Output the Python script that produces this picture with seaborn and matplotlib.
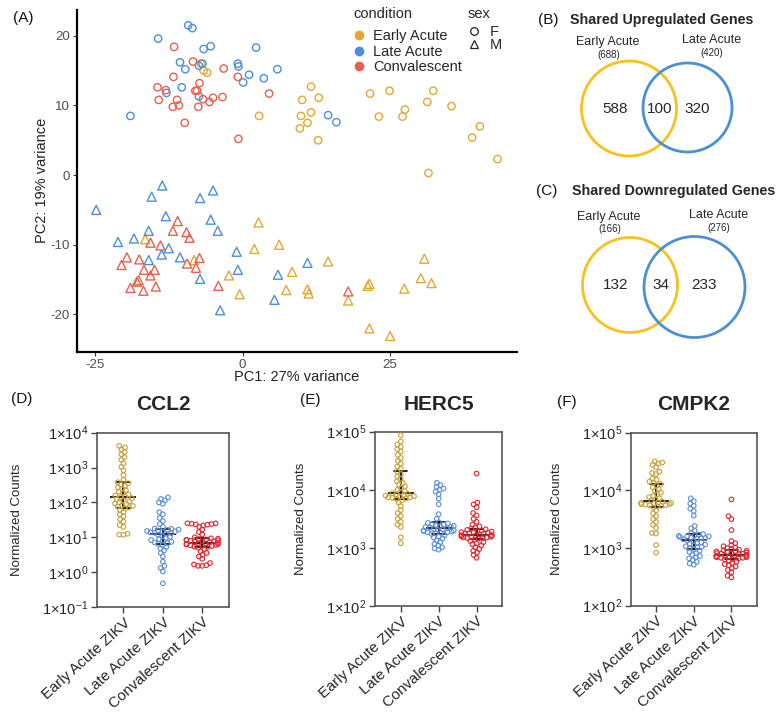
import numpy as np
import pandas as pd
import matplotlib
matplotlib.use("Agg")
import matplotlib.pyplot as plt
import seaborn as sns
from matplotlib.patches import Circle
from matplotlib.lines import Line2D
from matplotlib.ticker import FixedLocator, NullLocator, FuncFormatter

# ---------------- data: PCA (panel A) ----------------
conditions = ["Early Acute", "Late Acute", "Convalescent"]
sexes = ["F", "M"]

early_f_pc1 = [-7.1, -6.6, -6.0, 2.8, 11.6, 10.1, 12.9, 9.9, 11.6, 11.0, 9.7, 12.8, 21.6, 24.9,
               23.1, 27.5, 27.1, 31.3, 32.3, 35.4, 31.5, 40.2, 38.9, 43.2]
early_f_pc2 = [16.0, 15.0, 14.7, 8.5, 12.7, 10.8, 11.1, 8.5, 9.0, 7.5, 6.7, 5.0, 11.7, 12.1,
               8.4, 9.4, 8.4, 10.5, 12.1, 9.9, 0.3, 7.0, 5.4, 2.3]
late_f_pc1 = [-14.3, -9.2, -8.5, -6.6, -5.4, 2.3, -10.6, -9.7, -6.8, -7.4, -0.8, -0.7, 5.9, 1.1,
              0.1, 3.6, -10.3, -12.9, -7.4, -19.0, 14.5, 15.9]
late_f_pc2 = [19.6, 21.5, 21.1, 18.1, 18.5, 18.3, 16.2, 15.2, 16.0, 15.7, 16.0, 15.6, 15.2, 14.4,
              13.3, 13.9, 12.6, 11.8, 11.3, 8.5, 8.6, 7.6]
conv_f_pc1 = [-11.6, -8.4, -3.2, -11.7, -7.3, -14.4, -13.0, -8.0, -7.7, -0.8, 4.5, -14.2, -11.1,
              -6.7, -5.6, -5.0, -3.4, -11.8, -10.8, -7.5, -9.8, -0.7]
conv_f_pc2 = [18.4, 16.3, 15.3, 14.1, 13.2, 12.6, 12.2, 12.1, 12.1, 14.1, 11.7, 10.8, 10.8,
              10.9, 10.5, 11.1, 11.2, 9.8, 10.0, 9.8, 7.5, 5.2]
early_m_pc1 = [-16.5, -8.2, 2.7, 2.0, 6.2, -2.3, -0.5, 7.4, 8.4, 11.0, 11.2, 14.5, 17.9, 21.2,
               21.5, 21.5, 25.0, 27.4, 30.8, 30.2, 32.0]
early_m_pc2 = [-9.2, -12.2, -6.8, -10.6, -10.0, -14.4, -17.1, -16.5, -13.9, -16.4, -17.0, -12.4,
               -18.0, -15.9, -15.6, -22.0, -23.1, -16.3, -12.0, -14.8, -15.5]
late_m_pc1 = [-24.8, -13.6, -15.4, -7.2, -5.0, -13.0, -5.4, -4.2, -15.9, -21.1, -18.4, -12.5,
              -13.7, -10.6, -15.9, -1.0, -0.8, -7.2, 11.0, 6.0, 5.4, -3.8]
late_m_pc2 = [-5.0, -1.5, -3.1, -3.3, -2.2, -5.9, -6.4, -8.0, -8.0, -9.6, -9.1, -10.5, -11.4,
              -11.8, -12.2, -11.0, -13.6, -14.9, -12.6, -14.3, -17.9, -19.4]
conv_m_pc1 = [-11.0, -11.8, -9.5, -9.0, -15.6, -13.9, -19.6, -20.5, -17.5, -7.3, -9.4, -7.9,
              -16.7, -14.9, -15.6, -17.6, -17.9, -19.0, -16.8, -14.7, -4.1, 17.9]
conv_m_pc2 = [-6.6, -8.0, -8.2, -9.0, -9.7, -10.1, -11.8, -12.9, -12.1, -11.9, -12.7, -13.3,
              -13.6, -13.6, -14.4, -15.1, -15.3, -16.2, -16.6, -16.0, -15.9, -16.7]

# ---------------- data: Venn (panels B, C) ----------------
venn_sets = ["Early Acute", "Late Acute"]
up_totals = [688, 420]
up_regions = [588, 100, 320]
down_totals = [166, 276]
down_regions = [132, 34, 233]

# ---------------- data: dot plots (log10 normalized counts) ----------------
groups = ["Early Acute ZIKV", "Late Acute ZIKV", "Convalescent ZIKV"]

ccl2_early = [3.62, 3.58, 3.52, 3.45, 3.38, 3.30, 3.22, 3.12, 3.02, 2.92, 2.78, 2.65, 2.58, 2.55,
              2.51, 2.47, 2.43, 2.39, 2.35, 2.31, 2.27, 2.23, 2.20, 2.17, 2.15, 2.12, 2.09, 2.06,
              2.03, 2.00, 1.97, 1.95, 1.92, 1.90, 1.88, 1.86, 1.83, 1.78, 1.72, 1.66, 1.60, 1.52,
              1.45, 1.35, 1.30, 1.10, 1.08, 1.07]
ccl2_late = [2.14, 2.10, 2.06, 2.00, 1.96, 1.72, 1.66, 1.55, 1.47, 1.38, 1.30, 1.25, 1.24, 1.22,
             1.21, 1.19, 1.18, 1.17, 1.16, 1.14, 1.13, 1.12, 1.10, 1.07, 1.04, 1.01, 0.98, 0.95,
             0.92, 0.90, 0.87, 0.85, 0.83, 0.81, 0.78, 0.72, 0.68, 0.62, 0.55, 0.45, 0.30, 0.18,
             0.12, 0.02, -0.32]
ccl2_conv = [1.40, 1.40, 1.39, 1.38, 1.37, 1.36, 1.34, 1.30, 1.22, 1.15, 1.08, 1.00, 0.97, 0.96,
             0.95, 0.94, 0.93, 0.92, 0.91, 0.90, 0.89, 0.88, 0.87, 0.86, 0.84, 0.83, 0.82, 0.81,
             0.80, 0.79, 0.78, 0.77, 0.76, 0.75, 0.73, 0.72, 0.70, 0.66, 0.60, 0.55, 0.50, 0.45,
             0.38, 0.26, 0.22, 0.20, 0.18, 0.18]

herc5_early = [4.94, 4.83, 4.78, 4.74, 4.70, 4.66, 4.60, 4.55, 4.50, 4.45, 4.40, 4.36, 4.31, 4.27,
               4.23, 4.19, 4.15, 4.12, 4.09, 4.06, 4.03, 4.00, 3.98, 3.96, 3.94, 3.93, 3.92, 3.91,
               3.90, 3.89, 3.88, 3.87, 3.87, 3.86, 3.85, 3.84, 3.82, 3.78, 3.72, 3.65, 3.60, 3.55,
               3.50, 3.45, 3.40, 3.36, 3.18, 3.08]
herc5_late = [4.12, 4.08, 4.05, 4.02, 4.00, 3.97, 3.92, 3.85, 3.75, 3.58, 3.50, 3.44, 3.43, 3.42,
              3.41, 3.40, 3.39, 3.38, 3.37, 3.36, 3.36, 3.35, 3.34, 3.33, 3.32, 3.31, 3.30, 3.30,
              3.29, 3.28, 3.27, 3.27, 3.26, 3.25, 3.24, 3.22, 3.20, 3.18, 3.16, 3.13, 3.10, 3.07,
              3.04, 3.01, 2.99, 2.97]
herc5_conv = [4.28, 3.78, 3.75, 3.70, 3.60, 3.56, 3.50, 3.45, 3.40, 3.37, 3.35, 3.33, 3.32, 3.31,
              3.30, 3.29, 3.28, 3.27, 3.27, 3.26, 3.25, 3.25, 3.24, 3.23, 3.22, 3.22, 3.21, 3.21,
              3.20, 3.19, 3.19, 3.18, 3.18, 3.17, 3.17, 3.16, 3.14, 3.12, 3.10, 3.08, 3.06, 3.04,
              3.01, 2.98, 2.95, 2.92, 2.88, 2.83]

cmpk2_early = [4.50, 4.48, 4.46, 4.44, 4.40, 4.32, 4.30, 4.28, 4.20, 4.18, 4.15, 4.13, 4.11, 4.08,
               4.05, 4.02, 3.99, 3.96, 3.93, 3.90, 3.88, 3.86, 3.84, 3.82, 3.80, 3.79, 3.78, 3.78,
               3.77, 3.76, 3.76, 3.75, 3.74, 3.74, 3.73, 3.72, 3.70, 3.65, 3.60, 3.55, 3.50, 3.45,
               3.40, 3.35, 3.26, 3.25, 3.05, 2.92]
cmpk2_late = [3.86, 3.81, 3.77, 3.73, 3.68, 3.64, 3.56, 3.38, 3.34, 3.30, 3.26, 3.24, 3.23, 3.22,
              3.21, 3.20, 3.20, 3.19, 3.18, 3.17, 3.17, 3.16, 3.15, 3.13, 3.12, 3.10, 3.09, 3.07,
              3.06, 3.05, 3.03, 3.02, 3.01, 3.00, 2.98, 2.95, 2.93, 2.91, 2.88, 2.86, 2.84, 2.82,
              2.79, 2.76, 2.73, 2.71]
cmpk2_conv = [3.84, 3.55, 3.50, 3.31, 3.12, 3.08, 3.05, 3.03, 3.01, 3.00, 2.98, 2.97, 2.96, 2.95,
              2.94, 2.94, 2.93, 2.92, 2.91, 2.91, 2.90, 2.90, 2.89, 2.88, 2.87, 2.87, 2.86, 2.86,
              2.85, 2.85, 2.84, 2.84, 2.83, 2.83, 2.82, 2.81, 2.80, 2.78, 2.76, 2.74, 2.72, 2.70,
              2.68, 2.65, 2.62, 2.58, 2.52, 2.49]

# ---------------- style ----------------
sns.set_theme(style="white")
plt.rcParams["font.family"] = ["Liberation Sans", "DejaVu Sans"]
plt.rcParams["mathtext.fontset"] = "custom"
plt.rcParams["mathtext.rm"] = "Liberation Sans"
plt.rcParams["mathtext.it"] = "Liberation Sans:italic"
plt.rcParams["mathtext.bf"] = "Liberation Sans:bold"
plt.rcParams["axes.unicode_minus"] = False

pca_palette = ["#E2A833", "#4A90D9", "#E8604C"]
dot_palette = ["#C8A038", "#5B8ED6", "#E3262E"]
venn_yellow = "#F8C11C"
venn_blue = "#4A90D2"

W, H = 783.0, 713.0
fig = plt.figure(figsize=(W / 100, H / 100), dpi=100)


def px_axes(l, t, r, b):
    return fig.add_axes([l / W, 1 - b / H, (r - l) / W, (b - t) / H])


def hollow(ax, lw):
    for coll in ax.collections:
        fc = coll.get_facecolors()
        if len(fc):
            coll.set_edgecolors(fc)
            coll.set_facecolors("none")
            coll.set_linewidths(lw)


# ---------------- panel A: PCA ----------------
parts = []
for cond, sex, x, y in [
    ("Early Acute", "F", early_f_pc1, early_f_pc2),
    ("Late Acute", "F", late_f_pc1, late_f_pc2),
    ("Convalescent", "F", conv_f_pc1, conv_f_pc2),
    ("Early Acute", "M", early_m_pc1, early_m_pc2),
    ("Late Acute", "M", late_m_pc1, late_m_pc2),
    ("Convalescent", "M", conv_m_pc1, conv_m_pc2),
]:
    parts.append(pd.DataFrame({"PC1": x, "PC2": y, "condition": cond, "sex": sex}))
pca = pd.concat(parts, ignore_index=True)

axA = px_axes(76.7, 10, 517, 351.7)
sns.scatterplot(data=pca, x="PC1", y="PC2", hue="condition", hue_order=conditions,
                palette=pca_palette, style="sex", style_order=sexes,
                markers={"F": "o", "M": "^"}, size="sex", sizes={"F": 28, "M": 42},
                legend=False, ax=axA)
hollow(axA, 1.0)
axA.set_xlim(-28.1, 46.5)
axA.set_ylim(-25.35, 23.7)
axA.set_xticks([-25, 0, 25])
axA.set_yticks([-20, -10, 0, 10, 20])
for side in ["top", "right"]:
    axA.spines[side].set_visible(False)
for side in ["left", "bottom"]:
    axA.spines[side].set_color("black")
    axA.spines[side].set_linewidth(1.6)
axA.tick_params(axis="both", which="major", bottom=True, left=True, length=3, width=0.8,
                color="#333333", labelsize=9.5, labelcolor="#4D4D4D", pad=2)
axA.set_xlabel("PC1: 27% variance", fontsize=10.5, color="#222222")
axA.set_ylabel("PC2: 19% variance", fontsize=10.5, color="#222222")
axA.xaxis.set_label_coords(0.5, -0.055)
axA.yaxis.set_label_coords(-0.062, 0.5)

cond_handles = [Line2D([], [], ls="none", marker="o", ms=6, mfc=c, mec=c) for c in pca_palette]
leg1 = fig.legend(cond_handles, conditions, title="condition", loc="upper left",
                  bbox_to_anchor=(353 / W, 1 - 7 / H), frameon=False, fontsize=10.5,
                  title_fontsize=10.5, handlelength=0.8, handletextpad=0.6, labelspacing=0.1,
                  borderpad=0, borderaxespad=0)
leg1._legend_box.align = "left"
leg1._legend_box.sep = 6
sex_handles = [Line2D([], [], ls="none", marker=m, ms=5.5, mfc="none", mec="#222222", mew=0.9)
               for m in ["o", "^"]]
leg2 = fig.legend(sex_handles, sexes, title="sex", loc="upper left",
                  bbox_to_anchor=(468 / W, 1 - 7 / H), frameon=False, fontsize=10.5,
                  title_fontsize=10.5, handlelength=0.8, handletextpad=0.7, labelspacing=-0.1,
                  borderpad=0, borderaxespad=0)
leg2._legend_box.align = "left"
leg2._legend_box.sep = 3


# ---------------- panels D, E, F: dot plots ----------------
dot_axes = []


def dot_panel(ax, series, lo_exp, hi_exp, ylabel_x):
    df = pd.concat([pd.DataFrame({"group": g, "count": np.power(10.0, np.asarray(v))})
                    for g, v in zip(groups, series)], ignore_index=True)
    ax.set_yscale("log")
    ax.set_ylim(10.0 ** lo_exp, 10.0 ** hi_exp)
    # swarm is laid out with compact markers (so neighbouring circles may overlap afterwards,
    # like the scatter-dot style of the original)
    sns.swarmplot(data=df, x="group", y="count", hue="group", order=groups, hue_order=groups,
                  palette=dot_palette, size=2.1, linewidth=0.8, legend=False, warn_thresh=1,
                  ax=ax)
    hollow(ax, 0.8)
    sns.pointplot(data=df, x="group", y="count", order=groups, estimator="median",
                  errorbar=("pi", 50), capsize=0.35, color="black", marker="_",
                  markersize=19, markeredgewidth=1.2, linestyle="none",
                  err_kws={"linewidth": 1.2}, ax=ax)
    ax.set_xlim(-0.68, 2.68)
    ax.set_ylim(10.0 ** lo_exp, 10.0 ** hi_exp)
    ax.yaxis.set_major_locator(FixedLocator([10.0 ** e for e in range(lo_exp, hi_exp + 1)]))
    ax.yaxis.set_minor_locator(NullLocator())
    ax.yaxis.set_major_formatter(
        FuncFormatter(lambda v, p: r"$1{\times}10^{%d}$" % int(round(np.log10(v)))))
    for sp in ax.spines.values():
        sp.set_visible(True)
        sp.set_color("#555555")
        sp.set_linewidth(1.2)
    ax.tick_params(axis="y", which="major", left=True, length=4, width=1.0, color="#444444",
                   labelsize=10.5, pad=2)
    ax.tick_params(axis="x", which="major", bottom=True, length=4, width=1.0, color="#444444",
                   labelsize=10.8, pad=2)
    ax.set_xticks(range(len(groups)))
    ax.set_xticklabels(groups, rotation=42, ha="right", va="top", rotation_mode="anchor")
    ax.set_xlabel("")
    ax.set_ylabel("Normalized Counts", fontsize=9.5)
    ax.yaxis.set_label_coords(ylabel_x, 0.5)
    dot_axes.append(ax)


axD = px_axes(96.7, 432.7, 229, 607)
dot_panel(axD, [ccl2_early, ccl2_late, ccl2_conv], -1, 4, -0.557)
axE = px_axes(375, 431.7, 502.3, 606)
dot_panel(axE, [herc5_early, herc5_late, herc5_conv], 2, 5, -0.534)
axF = px_axes(630.5, 432.5, 757, 605.7)
dot_panel(axF, [cmpk2_early, cmpk2_late, cmpk2_conv], 2, 5, -0.534)

# ---------------- overlay: titles, panel letters, Venn diagrams ----------------
ov = fig.add_axes([0, 0, 1, 1])
ov.set_xlim(0, W)
ov.set_ylim(H, 0)
ov.axis("off")
ov.patch.set_visible(False)

for lab, x, y in [("(A)", 23, 18), ("(B)", 548, 20), ("(C)", 547, 191),
                  ("(D)", 22, 399), ("(E)", 310, 400), ("(F)", 567, 402)]:
    ov.text(x, y, lab, ha="center", va="center", fontsize=11, color="#111111")

for name, x, y in [("CCL2", 163, 405), ("HERC5", 438.5, 404), ("CMPK2", 694, 405)]:
    ov.text(x, y, name, ha="center", va="center", fontsize=15, fontweight="bold")


def venn(title, title_x, title_y, totals, regions, cy, yc, yr, bc, br, lab_y, num_y):
    ov.text(title_x, title_y, title, ha="left", va="center", fontsize=10.3, fontweight="bold")
    ov.add_patch(Circle((yc, cy[0]), yr, fill=False, ec=venn_yellow, lw=2.0))
    ov.add_patch(Circle((bc, cy[1]), br, fill=False, ec=venn_blue, lw=2.0))
    ov.text(yc - 21, lab_y[0], venn_sets[0], ha="center", va="center", fontsize=9)
    ov.text(yc - 20, lab_y[0] + 12.5, "(%d)" % totals[0], ha="center", va="center", fontsize=7)
    ov.text(bc + 24, lab_y[1], venn_sets[1], ha="center", va="center", fontsize=9)
    ov.text(bc + 24, lab_y[1] + 13, "(%d)" % totals[1], ha="center", va="center", fontsize=7)
    xs = [yc - 14, (yc + yr + bc - br) / 2.0, bc + 10]
    for x, n in zip(xs, regions):
        ov.text(x, num_y, str(n), ha="center", va="center", fontsize=11)


venn("Shared Upregulated Genes", 570, 20, up_totals, up_regions, (108.5, 107.5),
     629, 47.5, 687.5, 44.5, (42, 40), 109)
venn("Shared Downregulated Genes", 572, 191, down_totals, down_regions, (285, 287),
     630, 47.5, 694.5, 50.5, (217, 215), 285)

# run seaborn's swarm layout once, then freeze it and show the circles at full size
fig.canvas.draw()
for ax in dot_axes:
    for coll in ax.collections:
        if "draw" in coll.__dict__:
            del coll.__dict__["draw"]
        coll.set_sizes([3.3 ** 2])

fig.savefig("out.png", dpi=100)
